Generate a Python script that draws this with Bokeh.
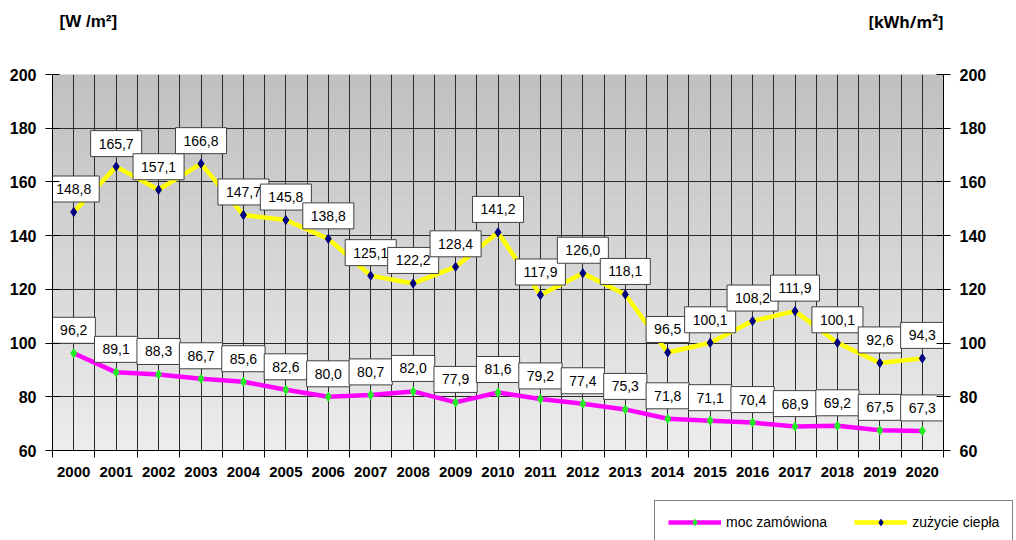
import numpy as np
from bokeh.plotting import figure
from bokeh.layouts import column
from bokeh.models import (Range1d, LinearAxis, FixedTicker, Legend, LegendItem, ColumnDataSource)
from bokeh.embed import file_html
from bokeh.resources import INLINE
from bokeh.core.properties import value

years = [str(y) for y in range(2000, 2021)]
moc_zamowiona = [96.2, 89.1, 88.3, 86.7, 85.6, 82.6, 80.0, 80.7, 82.0, 77.9, 81.6,
                 79.2, 77.4, 75.3, 71.8, 71.1, 70.4, 68.9, 69.2, 67.5, 67.3]
zuzycie_ciepla = [148.8, 165.7, 157.1, 166.8, 147.7, 145.8, 138.8, 125.1, 122.2, 128.4, 141.2,
                  117.9, 126.0, 118.1, 96.5, 100.1, 108.2, 111.9, 100.1, 92.6, 94.3]
y_ticks = [60, 80, 100, 120, 140, 160, 180, 200]
left_title = "[W /m²]"
right_title = "[kWh/m²]"
series_names = ["moc zamówiona", "zużycie ciepła"]

FONT = "Liberation Sans"
n = len(years)
xc = [i + 0.5 for i in range(n)]

# layout (pixels)
W = 1016
FL, FR, FT, FB = 52, 943, 74, 450
HEAD_H, FOOT_H = 40, 45
MAIN_H = 540 - HEAD_H - FOOT_H

def fmt(v):
    return f"{v:.1f}".replace(".", ",")

M_LINE, M_MARK = "#ff00ff", "#22ee22"
Z_LINE, Z_MARK = "#ffff00", "#000080"
LW = 4.5

# ---------------- main chart ----------------
p = figure(width=W, height=MAIN_H, output_backend="svg", toolbar_location=None,
           x_range=Range1d(0, n), y_range=Range1d(60, 200),
           min_border_left=FL, min_border_right=W - FR,
           min_border_top=FT - HEAD_H, min_border_bottom=MAIN_H - (FB - HEAD_H),
           outline_line_color=None, background_fill_color="white", border_fill_color="white")

# gradient plot-area background (styling only)
nb = 70
edges = np.linspace(60, 200, nb + 1)
top_c = np.array([0xc0, 0xc0, 0xc0])
bot_c = np.array([0xed, 0xed, 0xed])
cols = []
for k in range(nb):
    t = (k + 0.5) / nb
    c = (bot_c * (1 - t) + top_c * t).astype(int)
    cols.append("#%02x%02x%02x" % tuple(c))
p.quad(left=0, right=n, bottom=edges[:-1], top=edges[1:], fill_color=cols,
       line_color=cols, line_width=1, level="underlay")

# grids
p.xgrid.ticker = FixedTicker(ticks=[i * 0.5 for i in range(2 * n + 1)])
p.ygrid.ticker = FixedTicker(ticks=y_ticks)
for g in (p.xgrid, p.ygrid):
    g.grid_line_color = "#2a2a2a"
    g.grid_line_width = 1
    g.grid_line_alpha = 1
    g.level = "underlay"

# x axis
p.xaxis.ticker = FixedTicker(ticks=xc, minor_ticks=list(range(n + 1)))
p.xaxis.major_label_overrides = {x: y for x, y in zip(xc, years)}
p.xaxis.major_tick_in = 0
p.xaxis.major_tick_out = 0
p.xaxis.minor_tick_in = 0
p.xaxis.minor_tick_out = 7
p.xaxis.minor_tick_line_color = "black"
p.xaxis.axis_line_color = "black"
p.xaxis.major_label_standoff = 9
p.xaxis.major_label_text_font = FONT
p.xaxis.major_label_text_font_style = "bold"
p.xaxis.major_label_text_font_size = "15px"
p.xaxis.major_label_text_color = "black"

# y axes
p.yaxis.ticker = FixedTicker(ticks=y_ticks)
ra = LinearAxis(ticker=FixedTicker(ticks=y_ticks))
p.add_layout(ra, "right")
for ax in (p.yaxis[0], ra):
    ax.major_tick_in = 7
    ax.major_tick_out = 7
    ax.minor_tick_out = 0
    ax.minor_tick_in = 0
    ax.axis_line_color = "black"
    ax.major_tick_line_color = "black"
    ax.major_label_standoff = 9
    ax.major_label_text_font = FONT
    ax.major_label_text_font_style = "bold"
    ax.major_label_text_font_size = "16px"
    ax.major_label_text_color = "black"

# series
src_m = ColumnDataSource(dict(x=xc, y=moc_zamowiona, t=[fmt(v) for v in moc_zamowiona]))
src_z = ColumnDataSource(dict(x=xc, y=zuzycie_ciepla, t=[fmt(v) for v in zuzycie_ciepla]))

p.line("x", "y", source=src_m, line_color=M_LINE, line_width=LW)
p.scatter("x", "y", source=src_m, marker="diamond", size=9, fill_color=M_MARK, line_color=M_MARK)
p.line("x", "y", source=src_z, line_color=Z_LINE, line_width=LW)
p.scatter("x", "y", source=src_z, marker="diamond", size=9, fill_color=Z_MARK, line_color=Z_MARK)

for src in (src_m, src_z):
    p.text("x", "y", text="t", source=src, y_offset=-23,
           text_align="center", text_baseline="middle",
           text_font=value(FONT), text_font_size="14px", text_color="black",
           background_fill_color="white", border_line_color="#404040", border_line_width=1,
           padding=dict(left=8, right=8, top=8, bottom=8))

# ---------------- header with unit titles ----------------
head = figure(width=W, height=HEAD_H, output_backend="svg", toolbar_location=None,
              x_range=Range1d(0, n), y_range=Range1d(0, HEAD_H),
              min_border_left=FL, min_border_right=W - FR, min_border_top=0,
              min_border_bottom=0, x_axis_location=None, y_axis_location=None,
              outline_line_color=None, border_fill_color="white", background_fill_color="white")
head.grid.visible = False
head.text(x=[0], y=[HEAD_H - 21], text=[left_title], text_align="left", text_baseline="middle",
          x_offset=7, text_font=value(FONT), text_font_style="bold", text_font_size="17px",
          text_color="black")
head.text(x=[n], y=[HEAD_H - 21], text=[right_title], text_align="right", text_baseline="middle",
          text_font=value("Open Sans"), text_font_style="bold", text_font_size="16px",
          text_color="black")

# ---------------- footer with legend (separate root, full-width frame) ----------------
foot = figure(width=W, height=FOOT_H, output_backend="svg", toolbar_location=None,
              x_range=Range1d(0, 1), y_range=Range1d(0, 1),
              min_border_left=0, min_border_right=0, min_border_top=0,
              min_border_bottom=0, x_axis_location=None, y_axis_location=None,
              outline_line_color=None, border_fill_color="white", background_fill_color="white")
foot.grid.visible = False
# same series drawn outside the footer's visible range: only their legend glyphs show
fm_l = foot.line("x", "y", source=src_m, line_color=M_LINE, line_width=LW)
fm_s = foot.scatter("x", "y", source=src_m, marker="diamond", size=9, fill_color=M_MARK, line_color=M_MARK)
fz_l = foot.line("x", "y", source=src_z, line_color=Z_LINE, line_width=LW)
fz_s = foot.scatter("x", "y", source=src_z, marker="diamond", size=9, fill_color=Z_MARK, line_color=Z_MARK)
legend = Legend(items=[LegendItem(label=series_names[0], renderers=[fm_l, fm_s]),
                       LegendItem(label=series_names[1], renderers=[fz_l, fz_s])],
                orientation="horizontal", location=(654, -4),
                padding=13, spacing=27, glyph_width=53, glyph_height=16, label_height=16,
                label_standoff=5, label_text_font=FONT, label_text_font_size="14px",
                label_text_color="black", label_text_baseline="middle",
                border_line_color="black", border_line_width=1, background_fill_color="white",
                background_fill_alpha=1, margin=0)
foot.add_layout(legend, "center")

open("out.html", "w").write(file_html([column(head, p, spacing=0), foot], INLINE))
